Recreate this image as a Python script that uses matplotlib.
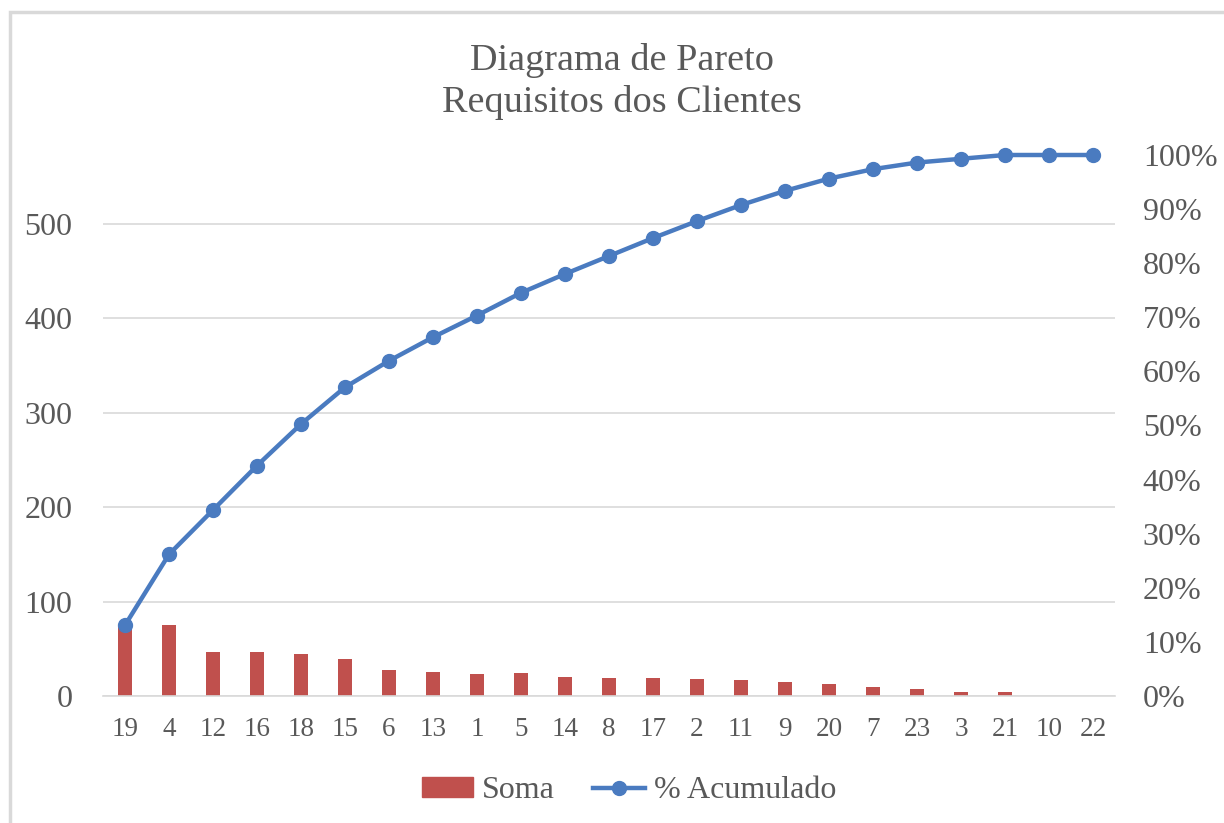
import matplotlib
matplotlib.use("Agg")
import matplotlib.pyplot as plt
from matplotlib.patches import Rectangle, Patch
from matplotlib.lines import Line2D
from matplotlib.ticker import FuncFormatter

# Requisitos (ordenados por frequência) e respetivas somas
requisitos = ["19", "4", "12", "16", "18", "15", "6", "13", "1", "5", "14",
              "8", "17", "2", "11", "9", "20", "7", "23", "3", "21", "10", "22"]
soma = [75, 75, 47, 47, 44, 39, 28, 25, 23, 24, 20,
        19, 19, 18, 17, 15, 13, 10, 7, 4, 4, 0, 0]

total = sum(soma)
acumulado = []
run = 0
for v in soma:
    run += v
    acumulado.append(run / total)

TEXT = "#595959"
GRID = "#D9D9D9"
RED = "#C0504D"
BLUE = "#4A7BC0"

plt.rcParams["font.family"] = ["Liberation Serif", "DejaVu Serif"]

fig = plt.figure(figsize=(12.24, 8.23), dpi=100)
fig.patch.set_facecolor("white")

# moldura do gráfico
fig.patches.append(Rectangle((10 / 1224, -0.02), 1.2, (823 - 12) / 823 + 0.02,
                             transform=fig.transFigure, fill=False,
                             edgecolor=GRID, linewidth=2.5))

ax = fig.add_axes([103 / 1224, 127 / 823, 1012 / 1224, 541 / 823])
x = list(range(len(requisitos)))

ax.bar(x, soma, width=0.34, color=RED, zorder=2)
ax.set_xlim(-0.5, len(requisitos) - 0.5)
ax.set_ylim(0, total)
ax.set_yticks([0, 100, 200, 300, 400, 500])
ax.grid(axis="y", color=GRID, linewidth=1.2, zorder=0)
ax.set_axisbelow(True)
for s in ["top", "right", "left"]:
    ax.spines[s].set_visible(False)
ax.spines["bottom"].set_color(GRID)
ax.spines["bottom"].set_linewidth(1.2)
ax.set_xticks(x)
ax.set_xticklabels(requisitos)
ax.tick_params(axis="x", length=0, pad=15, labelsize=19.5, labelcolor=TEXT)
ax.tick_params(axis="y", length=0, pad=22, labelsize=23, labelcolor=TEXT)

ax2 = ax.twinx()
ax2.plot(x, acumulado, color=BLUE, linewidth=3.2, marker="o", markersize=10,
         zorder=3, clip_on=False)
ax2.set_ylim(0, 1)
ax2.set_yticks([i / 10 for i in range(11)])
ax2.yaxis.set_major_formatter(FuncFormatter(lambda v, p: f"{v * 100:.0f}%"))
ax2.tick_params(axis="y", length=0, pad=20, labelsize=23, labelcolor=TEXT)
for s in ax2.spines.values():
    s.set_visible(False)

fig.text(622 / 1224, 1 - 61 / 823, "Diagrama de Pareto", ha="center", va="center",
         fontsize=27.5, color=TEXT)
fig.text(622 / 1224, 1 - 103 / 823, "Requisitos dos Clientes", ha="center",
         va="center", fontsize=27.5, color=TEXT)

handles = [Patch(facecolor=RED, edgecolor=RED),
           Line2D([], [], color=BLUE, linewidth=3.2, marker="o", markersize=10)]
fig.legend(handles, ["Soma", "% Acumulado"], loc="center",
           bbox_to_anchor=(629 / 1224, 1 - 791 / 823), ncol=2, frameon=False,
           fontsize=23, labelcolor=TEXT, handlelength=1.6, handleheight=0.6,
           handletextpad=0.3, columnspacing=1.2)

fig.savefig("out.png", dpi=100, facecolor="white")
